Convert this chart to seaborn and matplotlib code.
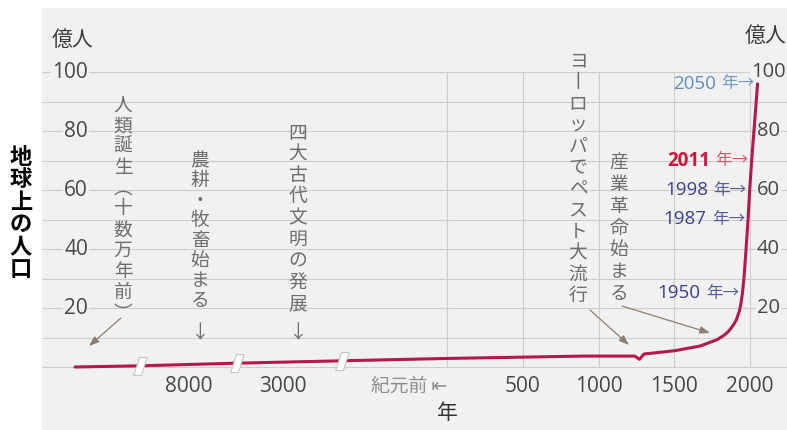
import numpy as np
import matplotlib
matplotlib.use("Agg")
import matplotlib.pyplot as plt
import seaborn as sns

# ---------------- data ----------------
years = [-200000, -12000, -4000, -1700, 0, 900, 1240, 1270, 1300, 1500,
         1670, 1780, 1830, 1860, 1890, 1910, 1930, 1940, 1950, 1960, 1970,
         1980, 1987, 1998, 2011, 2050]
population = [0.0, 0.4, 1.3, 2.1, 2.9, 3.7, 3.7, 2.6, 4.4, 5.5,
              7.1, 9.2, 10.8, 12.2, 14.2, 16.0, 19.0, 21.5, 25.0, 30.0, 37.0,
              44.5, 50.0, 60.0, 70.0, 96.0]

break_years = [-12000, -4000, -1700]
xtick_years = [-8000, -3000, 500, 1000, 1500, 2000]
xtick_labels = ["8000", "3000", "500", "1000", "1500", "2000"]
ytick_values = [20, 40, 60, 80, 100]
hgrid_values = [0, 10, 20, 30, 40, 50, 60, 70, 80, 90, 100]
vgrid_years = [0, 500, 1000, 1500, 2000]
label_years = [2050, 2011, 1998, 1987, 1950]

# ---------------- style ----------------
PANEL = "#f1f1f1"
GRID = "#cdcdcd"
CURVE = "#b3184f"
ANN = "#6e6e6e"
ARROW = "#8c7f70"
CJK = ["Noto Sans CJK JP", "DejaVu Sans"]
NUM = ["Open Sans", "Noto Sans CJK JP", "DejaVu Sans"]
label_colors = {
    2050: ("#5b8fc0", "#6f9dc9", "normal"),
    2011: ("#d2153f", "#d9566f", "bold"),
    1998: ("#3c3f8f", "#5a5da2", "normal"),
    1987: ("#3c3f8f", "#5a5da2", "normal"),
    1950: ("#3c3f8f", "#5a5da2", "normal"),
}

sns.set_style("white")
plt.rcParams["font.family"] = CJK

# piecewise (broken) time scale: year -> horizontal position
KY = np.array([-300000, -200000, -12000, -4000, -1700, 0, 2000, 2300], float)
KU = np.array([42, 75, 140, 237, 342, 447, 750, 795.45], float)


def _pw(x, xs, ys):
    x = np.asarray(x, dtype=float)
    y = np.interp(x, xs, ys)
    y = np.where(x < xs[0], ys[0] + (x - xs[0]) * (ys[1] - ys[0]) / (xs[1] - xs[0]), y)
    y = np.where(x > xs[-1], ys[-1] + (x - xs[-1]) * (ys[-1] - ys[-2]) / (xs[-1] - xs[-2]), y)
    return y


def fwd(x):
    return _pw(x, KY, KU)


def inv(u):
    return _pw(u, KU, KY)


W, H = 787, 430
fig = plt.figure(figsize=(W / 100, H / 100), dpi=100, facecolor="white")
ax = fig.add_axes([42 / W, 0, 745 / W, 422 / H])
ax.set_facecolor(PANEL)
for s in ax.spines.values():
    s.set_visible(False)

sns.lineplot(x=years, y=population, ax=ax, color=CURVE, linewidth=2.2,
             sort=False, estimator=None, zorder=4)

ax.set_xscale("function", functions=(fwd, inv))
ax.set_xlim(float(inv(42.0)), float(inv(787.0)))
ax.set_ylim(-(430 - 367) / 2.95, 100 + (72 - 8) / 2.95)
ax.set_xticks([])
ax.set_yticks([])
ax.minorticks_off()
ax.set_xlabel("")
ax.set_ylabel("")

# grid
for v in hgrid_values:
    ax.axhline(v, color=GRID, lw=0.8, zorder=1)
ax.vlines(vgrid_years, 0, 100, color=GRID, lw=0.8, zorder=1)

# break markers
break_vals = np.interp(break_years, years, population)
brk = [(-0.75, -1), (0.1, -1), (0.75, 1), (-0.1, 1), (-0.75, -1)]
ax.plot(break_years, break_vals, ls="none", marker=brk, ms=13,
        mfc="white", mec="#c4c4c4", mew=0.8, zorder=5)

# y tick labels (left and right)
ytr = ax.get_yaxis_transform()
bb = dict(facecolor=PANEL, edgecolor="none", pad=0.8)
for v in ytick_values:
    ax.text((88 - 42) / 745, v, str(v), transform=ytr, ha="right", va="center",
            fontsize=15, color="#474747", family=NUM, bbox=bb, zorder=3)
    ax.text((768.5 - 42) / 745, v, str(v), transform=ytr, ha="center", va="center",
            fontsize=14.5, color="#474747", family=NUM, bbox=bb, zorder=3)

# x tick labels
xtr = ax.get_xaxis_transform()
for yr, lab in zip(xtick_years, xtick_labels):
    ax.text(yr, (430 - 386) / 422, lab, transform=xtr, ha="center", va="center",
            fontsize=15, color="#474747", family=NUM)
ax.text(vgrid_years[0], (430 - 386) / 422, "紀元前 ⇤", transform=xtr, ha="right",
        va="center", fontsize=13.5, color="#8d8d8d", family=CJK)
ax.text(vgrid_years[0], (430 - 413) / 422, "年", transform=xtr, ha="center",
        va="center", fontsize=15, color="#333333", family=CJK)


def P(u, y):
    return (u, H - y)


# unit labels
fig.text(73 / W, 1 - 40 / H, "億人", ha="center", va="center", fontsize=15,
         color="#3a3a3a", family=CJK)
fig.text(766 / W, 1 - 36 / H, "億人", ha="center", va="center", fontsize=15,
         color="#3a3a3a", family=CJK)

# vertical axis title
for i, ch in enumerate("地球上の人口"):
    fig.text(21 / W, 1 - (157 + i * 22.6) / H, ch, ha="center", va="center",
             fontsize=16, fontweight="bold", color="black", family=CJK)


def vtext(chars, u, ytop, step, color=ANN, size=13.5):
    for i, ch in enumerate(chars):
        fig.text(u / W, 1 - (ytop + i * step) / H, ch, ha="center", va="center",
                 fontsize=size, color=color, family=CJK)


vtext(list("人類誕生") + ["︵"] + list("十数万年前") + ["︶"], 123, 105, 20.8)
vtext(list("農耕・牧畜始まる"), 200, 161, 19.9)
vtext(["↓"], 200, 333, 0)
vtext(list("四大古代文明の発展"), 298, 133, 21.3)
vtext(["↓"], 298, 333, 0)
vtext(["ヨ", "丨", "ロ", "ッ", "パ", "で", "ペ", "ス", "ト", "大", "流", "行"], 578, 61, 21.3)
vtext(list("産業革命始まる"), 619, 163, 21.7)

aprops = dict(arrowstyle="-|>,head_length=0.6,head_width=0.22", color=ARROW, lw=0.9,
              shrinkA=0, shrinkB=0)
for tail, tip in [((121, 318), (89, 346)), ((590, 310), (629, 345)),
                  ((622, 306), (710, 333))]:
    ax.annotate("", xy=P(*tip), xytext=P(*tail), xycoords="figure pixels",
                textcoords="figure pixels", arrowprops=aprops, zorder=6)

# year labels pointing at the curve
for yr in label_years:
    pop = population[years.index(yr)]
    c_num, c_tail, wt = label_colors[yr]
    t = ax.annotate("年→", xy=(yr, pop), xytext=(-2.2, 0), textcoords="offset points",
                    ha="right", va="center", fontsize=12, color=c_tail, family=CJK,
                    zorder=7)
    ax.annotate(str(yr), xy=(0, 0.5), xycoords=t, xytext=(-4, 0),
                textcoords="offset points", ha="right", va="center", fontsize=13.5,
                color=c_num, fontweight=wt, family=NUM, zorder=7)

fig.savefig("out.png", dpi=100, facecolor="white")
